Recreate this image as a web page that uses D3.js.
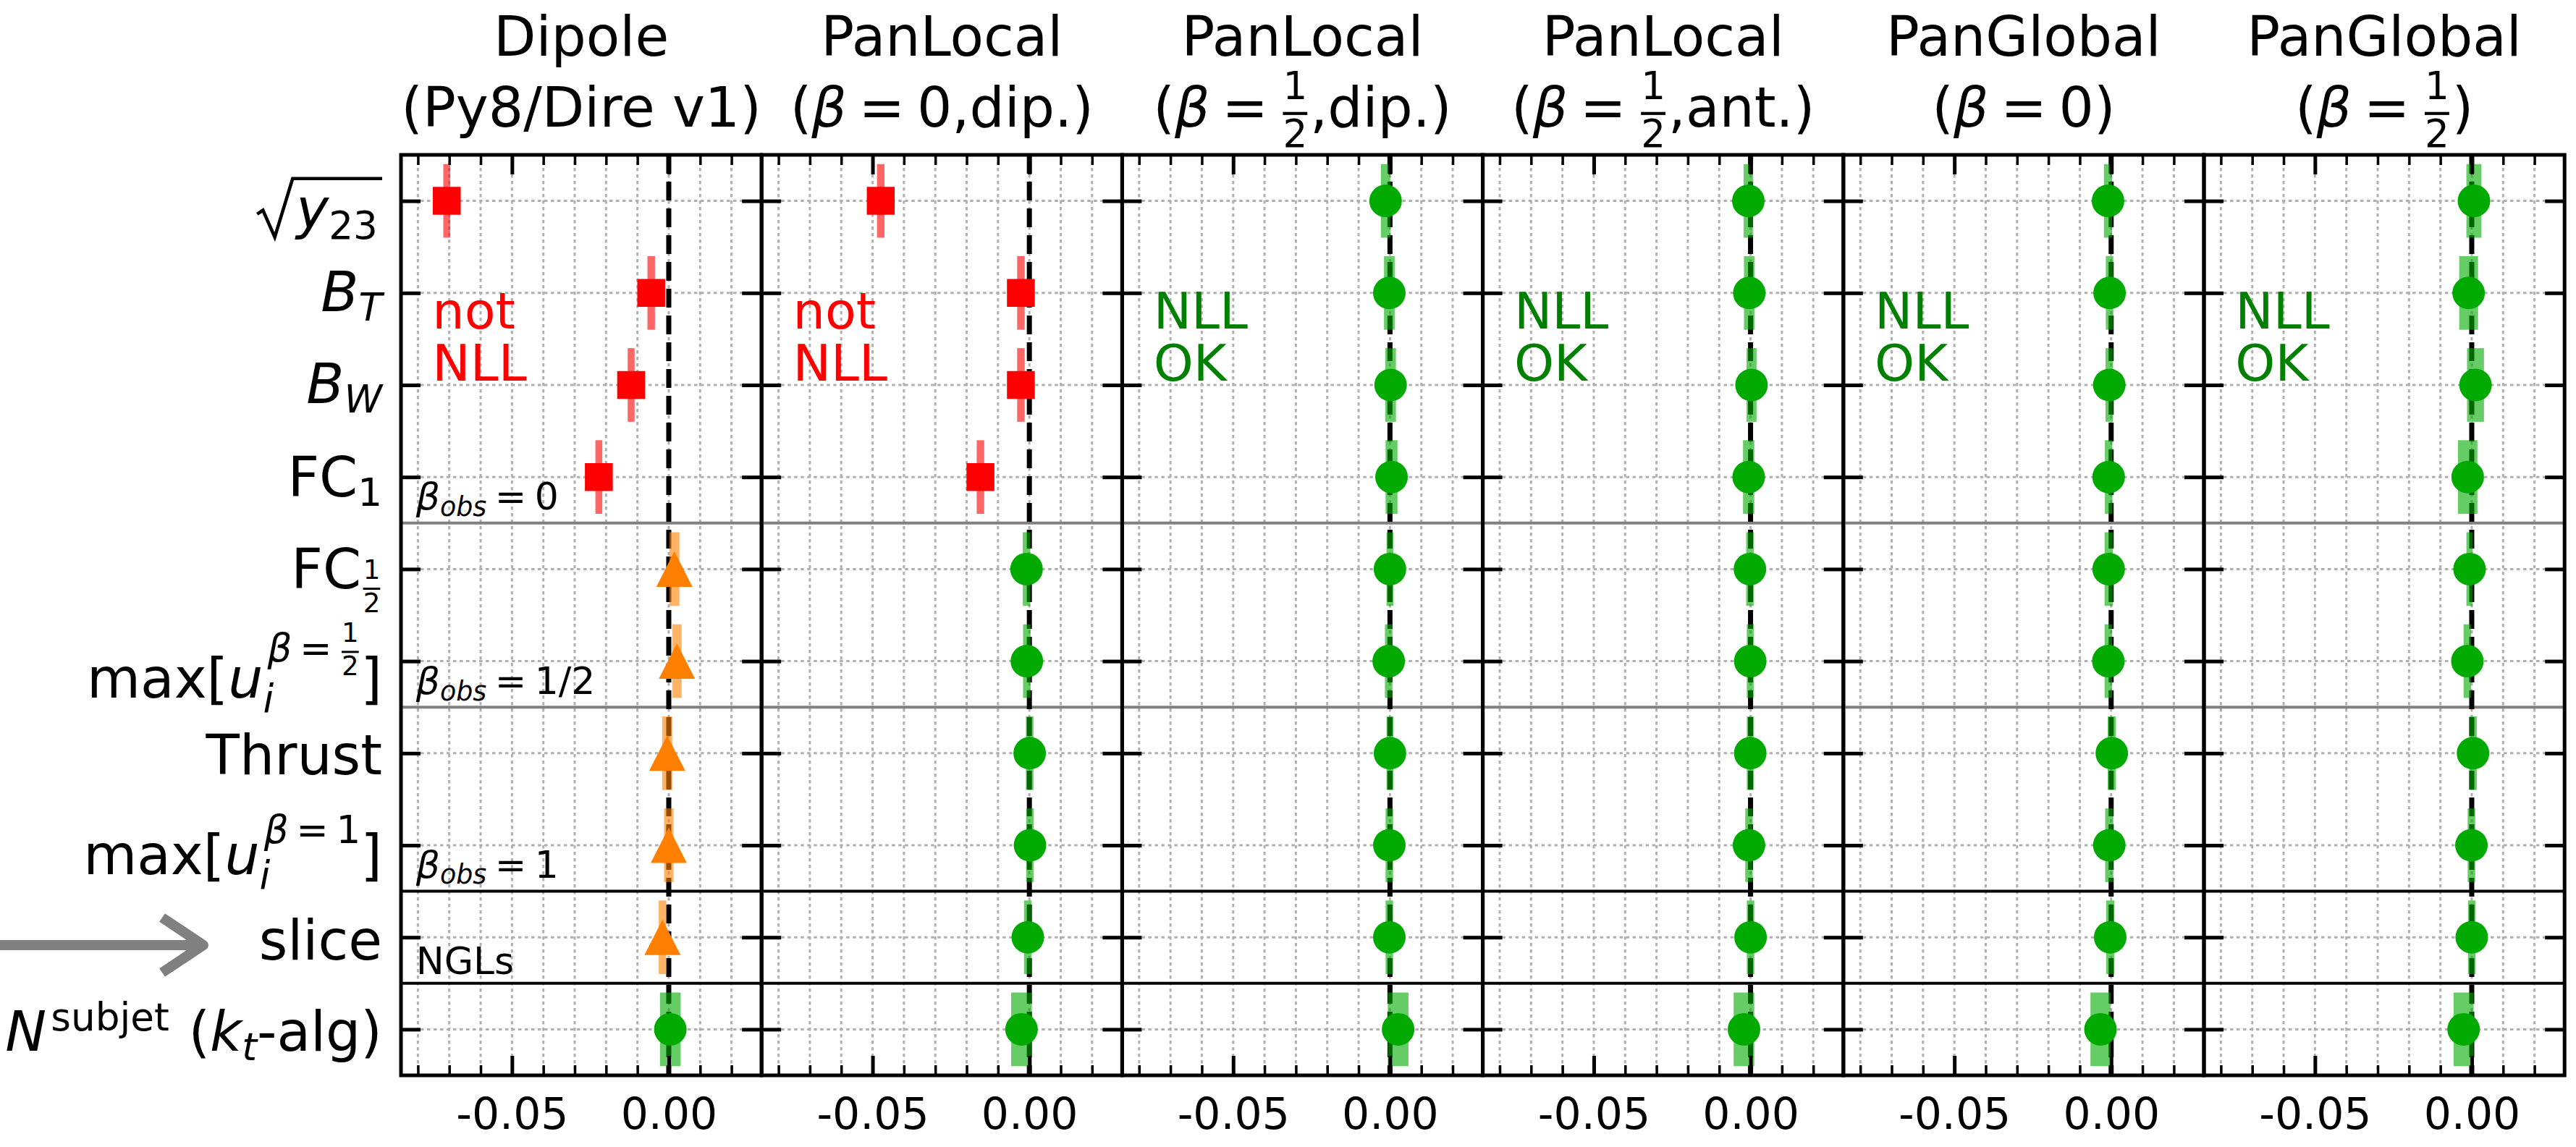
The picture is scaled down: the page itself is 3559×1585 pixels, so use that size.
<!DOCTYPE html>
<html>
<head>
<meta charset="utf-8">
<script src="https://cdn.jsdelivr.net/npm/d3@7"></script>
<style>
body { margin: 0; background: #fff; }
svg text { font-family: "DejaVu Sans", sans-serif; white-space: pre; }
</style>
</head>
<body>
<svg id="chart" width="3559" height="1585"></svg>
<script>
// observables, top to bottom
var observables = ["sqrt_y23", "B_T", "B_W", "FC_1", "FC_1/2", "max_u_b1/2", "Thrust", "max_u_b1", "slice", "N_subjet"];

// shower columns
var showerNames = ["Dipole", "PanLocal", "PanLocal", "PanLocal", "PanGlobal", "PanGlobal"];
var showerVariants = ["(Py8/Dire v1)", "(β=0,dip.)", "(β=1/2,dip.)", "(β=1/2,ant.)", "(β=0)", "(β=1/2)"];
var verdicts = ["not\nNLL", "not\nNLL", "NLL\nOK", "NLL\nOK", "NLL\nOK", "NLL\nOK"];

// deviation from NLL and its uncertainty, one pair per shower
var dipoleDelta = [-0.0708, -0.0056, -0.0120, -0.0223, 0.0018, 0.0026, -0.0005, 0.0000, -0.0020, 0.0005];
var dipoleErr   = [0.0011, 0.0012, 0.0011, 0.0011, 0.0016, 0.0015, 0.0016, 0.0015, 0.0012, 0.0033];
var panLocal0Delta = [-0.0474, -0.0027, -0.0027, -0.0156, -0.0009, -0.0008, 0.0001, 0.0002, -0.0005, -0.0025];
var panLocal0Err   = [0.0012, 0.0012, 0.0012, 0.0012, 0.0012, 0.0012, 0.0012, 0.0012, 0.0012, 0.0033];
var panLocalHalfDipDelta = [-0.0014, -0.0002, 0.0002, 0.0005, 0.0000, -0.0004, 0.0000, -0.0002, -0.0002, 0.0026];
var panLocalHalfDipErr   = [0.0015, 0.0017, 0.0017, 0.0019, 0.0011, 0.0012, 0.0011, 0.0012, 0.0012, 0.0033];
var panLocalHalfAntDelta = [-0.0007, -0.0004, 0.0003, -0.0006, -0.0002, -0.0001, -0.0001, -0.0005, 0.0000, -0.0021];
var panLocalHalfAntErr   = [0.0015, 0.0017, 0.0016, 0.0018, 0.0012, 0.0011, 0.0011, 0.0012, 0.0012, 0.0033];
var panGlobal0Delta = [-0.0010, -0.0005, -0.0006, -0.0008, -0.0008, -0.0009, 0.0002, -0.0006, -0.0003, -0.0034];
var panGlobal0Err   = [0.0013, 0.0012, 0.0012, 0.0012, 0.0013, 0.0012, 0.0013, 0.0013, 0.0013, 0.0032];
var panGlobalHalfDelta = [0.0007, -0.0010, 0.0012, -0.0013, -0.0007, -0.0014, 0.0004, -0.0001, 0.0000, -0.0026];
var panGlobalHalfErr   = [0.0024, 0.0030, 0.0027, 0.0031, 0.0010, 0.0012, 0.0012, 0.0012, 0.0012, 0.0032];

// fail = not NLL, ngl = NLL except NGLs, ok = NLL
var dipoleStatus    = ["fail", "fail", "fail", "fail", "ngl", "ngl", "ngl", "ngl", "ngl", "ok"];
var panLocal0Status = ["fail", "fail", "fail", "fail", "ok", "ok", "ok", "ok", "ok", "ok"];
var allOk           = ["ok", "ok", "ok", "ok", "ok", "ok", "ok", "ok", "ok", "ok"];

var xMajor = [-0.05, 0.00];
var xTickLabels = ["-0.05", "0.00"];
var xMinor = [-0.08, -0.07, -0.06, -0.04, -0.03, -0.02, -0.01, 0.01, 0.02];

var groupNotes = ["β_obs = 0", "β_obs = 1/2", "β_obs = 1", "NGLs"];

var deltas = [dipoleDelta, panLocal0Delta, panLocalHalfDipDelta, panLocalHalfAntDelta, panGlobal0Delta, panGlobalHalfDelta];
var errs = [dipoleErr, panLocal0Err, panLocalHalfDipErr, panLocalHalfAntErr, panGlobal0Err, panGlobalHalfErr];
var states = [dipoleStatus, panLocal0Status, allOk, allOk, allOk, allOk];

// ---- layout
var plotLeft = 554, panelW = 498.2, plotTop = 214, plotBottom = 1486;
var fs = 76;
var colors = {fail: "#ff0000", ngl: "#ff8000", ok: "#00aa00"};
var verdictColor = {fail: "#ff0000", ok: "#008000"};

var svg = d3.select("#chart");
var y = d3.scaleLinear().domain([-0.5, 9.5]).range([plotTop, plotBottom]);

// small math-text layout: pieces laid out left to right from baseline 0
function place(g, pieces, F) {
	var x = 0;
	pieces.forEach(function(p) { x += drawPiece(g, p, x, F); });
	return x;
}

function drawPiece(g, p, x, F) {
	if (p.sp !== undefined) return p.sp * F;
	if (p.t !== undefined) {
		var t = g.append("text").attr("x", x).attr("y", 0)
			.style("font-size", F + "px")
			.style("font-style", p.i ? "italic" : "normal")
			.text(p.t);
		return t.node().getComputedTextLength();
	}
	if (p.frac) {
		var f = 0.7 * F, pad = 0.05 * F;
		var n = g.append("text").style("font-size", f + "px").attr("text-anchor", "middle").text(p.frac[0]);
		var d = g.append("text").style("font-size", f + "px").attr("text-anchor", "middle").text(p.frac[1]);
		var w = Math.max(n.node().getComputedTextLength(), d.node().getComputedTextLength());
		n.attr("x", x + pad + w / 2).attr("y", -0.5 * F);
		d.attr("x", x + pad + w / 2).attr("y", 0.37 * F);
		g.append("rect").attr("x", x + pad).attr("y", -0.267 * F)
			.attr("width", w).attr("height", 0.055 * F);
		return w + 2 * pad;
	}
	if (p.sub || p.sup) {
		var s = 0.7 * F, w1 = 0, w2 = 0;
		if (p.sub) {
			var gs = g.append("g").attr("transform", "translate(" + x + "," + (p.subDy * F) + ")");
			w1 = place(gs, p.sub, s);
		}
		if (p.sup) {
			var dx = (p.supDx || 0) * F;
			var gp = g.append("g").attr("transform", "translate(" + (x + dx) + "," + (-p.supDy * F) + ")");
			w2 = dx + place(gp, p.sup, s);
		}
		return Math.max(w1, w2);
	}
	if (p.sqrt) {
		var gi = g.append("g").attr("transform", "translate(" + (x + 0.71 * F) + ",0)");
		var wi = place(gi, p.sqrt, F);
		var end = x + 0.71 * F + wi + 0.08 * F;
		g.append("path")
			.attr("d", d3.line()([[x, -0.25 * F], [x + 0.105 * F, -0.32 * F], [x + 0.32 * F, 0.17 * F],
				[x + 0.645 * F, -0.895 * F], [end, -0.895 * F]]))
			.attr("fill", "none").attr("stroke", "#000").attr("stroke-width", 0.06 * F)
			.attr("stroke-linejoin", "miter");
		return end - x;
	}
	return 0;
}

// anchor: "start" | "middle" | "end"
function richText(parent, pieces, x, yb, F, anchor, color) {
	var g = parent.append("g").attr("fill", color || "#000");
	var w = place(g, pieces, F);
	var sx = anchor === "end" ? x - w : anchor === "middle" ? x - w / 2 : x;
	g.attr("transform", "translate(" + sx + "," + yb + ")");
	return g;
}

var eqSp = 0.22;
function betaSpec(rest) {
	// "(β=1/2,dip.)" style strings
	var m = rest.match(/^\(β=([^,)]+)(.*)$/);
	if (!m) return [{t: rest}];
	var val = m[1].indexOf("/") > 0 ? {frac: m[1].split("/")} : {t: m[1]};
	return [{t: "("}, {t: "β", i: 1}, {sp: eqSp}, {t: "="}, {sp: eqSp}, val, {t: m[2]}];
}

function supBeta(val) {
	return [{t: "β", i: 1}, {sp: 0.2}, {t: "="}, {sp: 0.2}, val];
}

var labelSpecs = {
	"sqrt_y23": [{sqrt: [{t: "y", i: 1}, {sub: [{t: "23"}], subDy: 0.2}]}],
	"B_T": [{t: "B", i: 1}, {sub: [{t: "T", i: 1}], subDy: 0.17}],
	"B_W": [{t: "B", i: 1}, {sub: [{t: "W", i: 1}], subDy: 0.17}],
	"FC_1": [{t: "FC"}, {sub: [{t: "1"}], subDy: 0.17}],
	"FC_1/2": [{t: "FC"}, {sub: [{frac: ["1", "2"]}], subDy: 0.17}],
	"max_u_b1/2": [{t: "max["}, {t: "u", i: 1},
		{sub: [{t: "i", i: 1}], subDy: 0.26, sup: supBeta({frac: ["1", "2"]}), supDy: 0.66, supDx: 0.08}, {t: "]"}],
	"Thrust": [{t: "Thrust"}],
	"max_u_b1": [{t: "max["}, {t: "u", i: 1},
		{sub: [{t: "i", i: 1}], subDy: 0.26, sup: supBeta({t: "1"}), supDy: 0.57, supDx: 0.08}, {t: "]"}],
	"slice": [{t: "slice"}],
	"N_subjet": [{t: "N", i: 1}, {sup: [{t: "subjet"}], supDy: 0.37, supDx: 0.08}, {sp: 0.35},
		{t: "("}, {t: "k", i: 1}, {sub: [{t: "t", i: 1}], subDy: 0.17}, {t: "-alg)"}]
};
// baseline below the row centre, in em
var labelDrop = [0.49, 0.33, 0.33, 0.355, 0.355, 0.66, 0.38, 0.53, 0.41, 0.395];

function noteSpec(s) {
	if (s.indexOf("β_obs") < 0) return [{t: s}];
	var v = s.split("= ")[1];
	return [{t: "β", i: 1}, {sub: [{t: "obs", i: 1}], subDy: 0.17}, {sp: eqSp}, {t: "="}, {sp: eqSp}, {t: v}];
}
var noteRows = [3.355, 5.355, 7.35, 8.40];
var noteSize = 52, verdictSize = 70;

// ---- y labels
observables.forEach(function(o, i) {
	richText(svg, labelSpecs[o], 528, y(i) + labelDrop[i] * fs, fs, "end");
});

// ---- panels
showerNames.forEach(function(name, k) {
	var x0 = plotLeft + k * panelW;
	var x = d3.scaleLinear().domain([-0.0854, 0.0296]).range([x0, x0 + panelW]);
	var g = svg.append("g").attr("class", "panel");

	// grid
	g.selectAll(".vgrid").data(xMajor.concat(xMinor)).enter().append("line")
		.attr("x1", x).attr("x2", x).attr("y1", plotTop).attr("y2", plotBottom)
		.attr("stroke", "#b0b0b0").attr("stroke-width", 3).attr("stroke-dasharray", "4.5,4.5");
	g.selectAll(".hgrid").data(d3.range(observables.length)).enter().append("line")
		.attr("x1", x0).attr("x2", x0 + panelW).attr("y1", y).attr("y2", y)
		.attr("stroke", "#b0b0b0").attr("stroke-width", 3).attr("stroke-dasharray", "4.5,4.5");

	// group separators
	[[3.5, "#808080"], [5.5, "#808080"], [7.5, "#000"], [8.5, "#000"]].forEach(function(s) {
		g.append("line").attr("x1", x0).attr("x2", x0 + panelW)
			.attr("y1", y(s[0])).attr("y2", y(s[0]))
			.attr("stroke", s[1]).attr("stroke-width", 4);
	});

	// NLL reference
	g.append("line").attr("x1", x(0)).attr("x2", x(0)).attr("y1", plotTop).attr("y2", plotBottom)
		.attr("stroke", "#000").attr("stroke-width", 7).attr("stroke-dasharray", "26,11");

	var rows = deltas[k].map(function(v, i) {
		return {v: v, e: errs[k][i], s: states[k][i], i: i};
	});

	g.selectAll(".err").data(rows).enter().append("rect")
		.attr("x", function(d) { return x(d.v - d.e); })
		.attr("width", function(d) { return x(d.v + d.e) - x(d.v - d.e); })
		.attr("y", function(d) { return y(d.i - 0.4); })
		.attr("height", function(d) { return y(d.i + 0.4) - y(d.i - 0.4); })
		.style("fill", function(d) { return colors[d.s]; })
		.style("opacity", 0.6);

	var tri = "M0,-24.5L25,24.5L-25,24.5Z";
	g.selectAll(".pt").data(rows).enter().append("path")
		.attr("transform", function(d) { return "translate(" + [x(d.v), y(d.i)] + ")"; })
		.attr("d", function(d) {
			if (d.s === "fail") return d3.symbol(d3.symbolSquare, 38.5 * 38.5)();
			if (d.s === "ngl") return tri;
			return d3.symbol(d3.symbolCircle, Math.PI * 22.5 * 22.5)();
		})
		.style("fill", function(d) { return colors[d.s]; });

	// verdict
	var vc = verdicts[k].indexOf("not") === 0 ? verdictColor.fail : verdictColor.ok;
	verdicts[k].split("\n").forEach(function(line, j) {
		g.append("text").attr("x", x(-0.0754)).attr("y", y(j === 0 ? 1.39 : 1.95))
			.style("font-size", verdictSize + "px").style("fill", vc).text(line);
	});

	if (k === 0) {
		groupNotes.forEach(function(n, j) {
			richText(g, noteSpec(n), x(-0.0806), y(noteRows[j]), noteSize, "start");
		});
	}

	// ticks
	var ax = g.append("g");
	ax.append("g").attr("transform", "translate(0," + plotBottom + ")")
		.call(d3.axisBottom(x).tickValues(xMinor).tickSize(-14).tickFormat(""));
	ax.append("g").attr("transform", "translate(0," + plotTop + ")")
		.call(d3.axisTop(x).tickValues(xMinor).tickSize(-14).tickFormat(""));
	ax.selectAll("line").attr("stroke-width", 3.5);
	var maj = ax.append("g");
	maj.append("g").attr("transform", "translate(0," + plotBottom + ")")
		.call(d3.axisBottom(x).tickValues(xMajor).tickSize(-27).tickPadding(31)
			.tickFormat(function(d, i) { return xTickLabels[i]; }));
	maj.append("g").attr("transform", "translate(0," + plotTop + ")")
		.call(d3.axisTop(x).tickValues(xMajor).tickSize(-27).tickFormat(""));
	maj.append("g").attr("transform", "translate(" + x0 + ",0)")
		.call(d3.axisLeft(y).tickValues(d3.range(observables.length)).tickSize(-27).tickFormat(""));
	maj.append("g").attr("transform", "translate(" + (x0 + panelW) + ",0)")
		.call(d3.axisRight(y).tickValues(d3.range(observables.length)).tickSize(-27).tickFormat(""));
	maj.selectAll("line").attr("stroke-width", 5);
	ax.selectAll(".domain").remove();
	ax.selectAll("text").attr("font-family", null).style("font-size", "60px").attr("fill", "#000");

	// frame
	g.append("rect").attr("x", x0).attr("y", plotTop).attr("width", panelW).attr("height", plotBottom - plotTop)
		.attr("fill", "none").attr("stroke", "#000").attr("stroke-width", 5);

	// titles
	g.append("text").attr("x", x0 + panelW / 2).attr("y", 77).attr("text-anchor", "middle")
		.style("font-size", fs + "px").text(name);
	richText(g, betaSpec(showerVariants[k]), x0 + panelW / 2, 175, fs, "middle");
});

// arrow pointing at the slice row
svg.append("path")
	.attr("d", "M0,1306H279M224,1268L281,1306L224,1344")
	.attr("fill", "none").attr("stroke", "#808080").attr("stroke-width", 14)
	.attr("stroke-linejoin", "round");
</script>
</body>
</html>
